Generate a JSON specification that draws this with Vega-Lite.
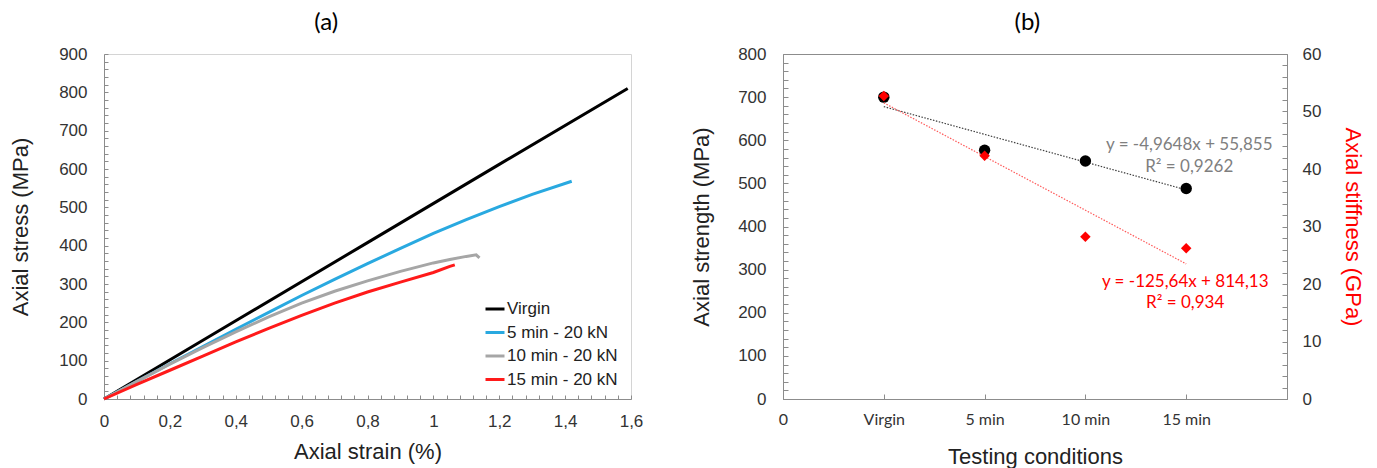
{
  "$schema": "https://vega.github.io/schema/vega-lite/v6.json",
  "background": "white",
  "padding": {"left": 9, "top": 10, "right": 0, "bottom": 0},
  "spacing": 46,
  "config": {
    "view": {"stroke": null},
    "axis": {"grid": false, "labelFlush": false, "labelOverlap": false},
    "title": {"font": "Lato", "fontSize": 24, "fontWeight": "normal", "color": "#000000", "frame": "bounds", "anchor": "middle", "offset": 10}
  },
  "datasets": {
    "curves": [
      {"series": "Virgin", "strain": 0, "stress": 0},
      {"series": "Virgin", "strain": 0.4, "stress": 204},
      {"series": "Virgin", "strain": 0.8, "stress": 408},
      {"series": "Virgin", "strain": 1.2, "stress": 612},
      {"series": "Virgin", "strain": 1.59, "stress": 810},
      {"series": "5 min - 20 kN", "strain": 0, "stress": 0},
      {"series": "5 min - 20 kN", "strain": 0.1, "stress": 46},
      {"series": "5 min - 20 kN", "strain": 0.2, "stress": 92},
      {"series": "5 min - 20 kN", "strain": 0.3, "stress": 137},
      {"series": "5 min - 20 kN", "strain": 0.4, "stress": 182},
      {"series": "5 min - 20 kN", "strain": 0.5, "stress": 226},
      {"series": "5 min - 20 kN", "strain": 0.6, "stress": 270},
      {"series": "5 min - 20 kN", "strain": 0.7, "stress": 312},
      {"series": "5 min - 20 kN", "strain": 0.8, "stress": 353},
      {"series": "5 min - 20 kN", "strain": 0.9, "stress": 393},
      {"series": "5 min - 20 kN", "strain": 1.0, "stress": 432},
      {"series": "5 min - 20 kN", "strain": 1.1, "stress": 468},
      {"series": "5 min - 20 kN", "strain": 1.2, "stress": 502},
      {"series": "5 min - 20 kN", "strain": 1.3, "stress": 534},
      {"series": "5 min - 20 kN", "strain": 1.42, "stress": 568},
      {"series": "10 min - 20 kN", "strain": 0, "stress": 0},
      {"series": "10 min - 20 kN", "strain": 0.1, "stress": 46},
      {"series": "10 min - 20 kN", "strain": 0.2, "stress": 91},
      {"series": "10 min - 20 kN", "strain": 0.3, "stress": 134},
      {"series": "10 min - 20 kN", "strain": 0.4, "stress": 175},
      {"series": "10 min - 20 kN", "strain": 0.5, "stress": 214},
      {"series": "10 min - 20 kN", "strain": 0.6, "stress": 250},
      {"series": "10 min - 20 kN", "strain": 0.7, "stress": 281},
      {"series": "10 min - 20 kN", "strain": 0.8, "stress": 308},
      {"series": "10 min - 20 kN", "strain": 0.9, "stress": 333},
      {"series": "10 min - 20 kN", "strain": 1.0, "stress": 355},
      {"series": "10 min - 20 kN", "strain": 1.05, "stress": 364},
      {"series": "10 min - 20 kN", "strain": 1.1, "stress": 372},
      {"series": "10 min - 20 kN", "strain": 1.13, "stress": 376},
      {"series": "10 min - 20 kN", "strain": 1.14, "stress": 368},
      {"series": "15 min - 20 kN", "strain": 0, "stress": 0},
      {"series": "15 min - 20 kN", "strain": 0.1, "stress": 38},
      {"series": "15 min - 20 kN", "strain": 0.2, "stress": 75},
      {"series": "15 min - 20 kN", "strain": 0.3, "stress": 112},
      {"series": "15 min - 20 kN", "strain": 0.4, "stress": 149},
      {"series": "15 min - 20 kN", "strain": 0.5, "stress": 184},
      {"series": "15 min - 20 kN", "strain": 0.6, "stress": 218},
      {"series": "15 min - 20 kN", "strain": 0.7, "stress": 250},
      {"series": "15 min - 20 kN", "strain": 0.8, "stress": 279},
      {"series": "15 min - 20 kN", "strain": 0.9, "stress": 305},
      {"series": "15 min - 20 kN", "strain": 1.0, "stress": 330},
      {"series": "15 min - 20 kN", "strain": 1.05, "stress": 346},
      {"series": "15 min - 20 kN", "strain": 1.065, "stress": 350}
    ],
    "strength": [
      {"cond": 1, "mpa": 700},
      {"cond": 2, "mpa": 577},
      {"cond": 3, "mpa": 552},
      {"cond": 4, "mpa": 488}
    ],
    "stiffness": [
      {"cond": 1, "gpa": 52.7},
      {"cond": 2, "gpa": 42.3},
      {"cond": 3, "gpa": 28.2},
      {"cond": 4, "gpa": 26.2}
    ],
    "trendS": [
      {"cond": 1, "mpa": 678},
      {"cond": 4, "mpa": 485}
    ],
    "trendE": [
      {"cond": 1, "gpa": 51.5},
      {"cond": 4, "gpa": 23.5}
    ],
    "eqGray": [
      {"cond": 4.03, "mpa": 589, "label": "y = -4,9648x + 55,855"},
      {"cond": 4.03, "mpa": 538, "label": "R² = 0,9262"}
    ],
    "eqRed": [
      {"cond": 3.99, "mpa": 271, "label": "y = -125,64x + 814,13"},
      {"cond": 3.99, "mpa": 223, "label": "R² = 0,934"}
    ]
  },
  "hconcat": [
    {
      "title": {"text": "(a)"},
      "width": 527,
      "height": 345,
      "view": {"stroke": "#d4d4d4"},
      "data": {"name": "curves"},
      "mark": {"type": "line", "strokeWidth": 3},
      "encoding": {
        "x": {
          "field": "strain", "type": "quantitative",
          "scale": {"domain": [0, 1.6], "nice": false},
          "axis": {
            "title": "Axial strain (%)",
            "values": [0,0.04,0.08,0.12,0.16,0.2,0.24,0.28,0.32,0.36,0.4,0.44,0.48,0.52,0.56,0.6,0.64,0.68,0.72,0.76,0.8,0.84,0.88,0.92,0.96,1,1.04,1.08,1.12,1.16,1.2,1.24,1.28,1.32,1.36,1.4,1.44,1.48,1.52,1.56,1.6],
            "labelExpr": "round(datum.value*25) % 5 === 0 ? replace(format(datum.value, '~g'), '.', ',') : ''",
            "labelOverlap": false,
            "tickSize": -4, "labelPadding": 18, "titlePadding": 12,
            "domainColor": "#8c8c8c", "tickColor": "#8c8c8c",
            "labelFont": "Liberation Sans", "labelFontSize": 17, "labelColor": "#333333",
            "titleFont": "Liberation Sans", "titleFontSize": 22, "titleFontWeight": "normal", "titleColor": "#222222"
          }
        },
        "y": {
          "field": "stress", "type": "quantitative",
          "scale": {"domain": [0, 900], "nice": false},
          "axis": {
            "title": "Axial stress (MPa)",
            "values": [0,20,40,60,80,100,120,140,160,180,200,220,240,260,280,300,320,340,360,380,400,420,440,460,480,500,520,540,560,580,600,620,640,660,680,700,720,740,760,780,800,820,840,860,880,900],
            "labelExpr": "datum.value % 100 === 0 ? datum.label : ''",
            "labelOverlap": false,
            "tickSize": -4, "labelPadding": 21, "titlePadding": 26,
            "domainColor": "#8c8c8c", "tickColor": "#8c8c8c",
            "labelFont": "Liberation Sans", "labelFontSize": 17, "labelColor": "#333333",
            "titleFont": "Liberation Sans", "titleFontSize": 22, "titleFontWeight": "normal", "titleColor": "#222222"
          }
        },
        "color": {
          "field": "series", "type": "nominal",
          "scale": {"domain": ["Virgin", "5 min - 20 kN", "10 min - 20 kN", "15 min - 20 kN"], "range": ["#000000", "#29a9e0", "#a6a6a6", "#ff1a1a"]},
          "legend": {
            "title": null, "orient": "none", "legendX": 380, "legendY": 244, "padding": 0,
            "symbolType": "stroke", "symbolSize": 361, "symbolStrokeWidth": 3,
            "labelFont": "Liberation Sans", "labelFontSize": 17, "labelColor": "#222222",
            "labelOffset": 1, "rowPadding": 4.5
          }
        }
      }
    },
    {
      "title": {"text": "(b)"},
      "width": 504,
      "height": 345,
      "view": {"stroke": "#8c8c8c"},
      "encoding": {
        "x": {
          "field": "cond", "type": "quantitative",
          "scale": {"domain": [0, 5], "nice": false},
          "axis": {
            "title": "Testing conditions",
            "values": [0, 1, 2, 3, 4],
            "labelExpr": "['0','Virgin','5 min','10 min','15 min'][datum.value]",
            "labelOverlap": false,
            "tickSize": -5, "labelPadding": 17, "titlePadding": 19, "labelDx": 3,
            "domainColor": "#8c8c8c", "tickColor": "#8c8c8c",
            "labelFont": "Lato", "labelFontSize": 16, "labelColor": "#333333",
            "titleFont": "Liberation Sans", "titleFontSize": 22, "titleFontWeight": "normal", "titleColor": "#222222"
          }
        }
      },
      "layer": [
        {
          "encoding": {
            "y": {
              "field": "mpa", "type": "quantitative", "title": "Axial strength (MPa)",
              "scale": {"domain": [0, 800], "nice": false},
              "axis": {
                "orient": "left",
                "values": [0,20,40,60,80,100,120,140,160,180,200,220,240,260,280,300,320,340,360,380,400,420,440,460,480,500,520,540,560,580,600,620,640,660,680,700,720,740,760,780,800],
                "labelExpr": "datum.value % 100 === 0 ? datum.label : ''",
                "labelOverlap": false,
                "tickSize": -5, "labelPadding": 22, "titlePadding": 24,
                "domainColor": "#8c8c8c", "tickColor": "#8c8c8c",
                "labelFont": "Liberation Sans", "labelFontSize": 17, "labelColor": "#333333",
                "titleFont": "Liberation Sans", "titleFontSize": 22, "titleFontWeight": "normal", "titleColor": "#222222"
              }
            }
          },
          "layer": [
            {
              "data": {"name": "trendS"},
              "mark": {"type": "line", "color": "#404040", "strokeWidth": 1.2, "strokeDash": [1.5, 1.5]}
            },
            {
              "data": {"name": "strength"},
              "mark": {"type": "point", "shape": "circle", "filled": true, "size": 130, "color": "#000000", "opacity": 1}
            },
            {
              "data": {"name": "eqGray"},
              "mark": {"type": "text", "font": "Lato", "fontSize": 17, "color": "#7f7f7f", "align": "center", "baseline": "middle"},
              "encoding": {"text": {"field": "label"}}
            },
            {
              "data": {"name": "eqRed"},
              "mark": {"type": "text", "font": "Lato", "fontSize": 17, "color": "#ff0000", "align": "center", "baseline": "middle"},
              "encoding": {"text": {"field": "label"}}
            }
          ]
        },
        {
          "encoding": {
            "y": {
              "field": "gpa", "type": "quantitative", "title": "Axial stiffness (GPa)",
              "scale": {"domain": [0, 60], "nice": false},
              "axis": {
                "orient": "right",
                "values": [0,2,4,6,8,10,12,14,16,18,20,22,24,26,28,30,32,34,36,38,40,42,44,46,48,50,52,54,56,58,60],
                "labelExpr": "datum.value % 10 === 0 ? datum.label : ''",
                "labelOverlap": false,
                "tickSize": -5, "labelPadding": 20, "titlePadding": 20,
                "domainColor": "#8c8c8c", "tickColor": "#8c8c8c",
                "labelFont": "Liberation Sans", "labelFontSize": 17, "labelColor": "#333333",
                "titleFont": "Liberation Sans", "titleFontSize": 22, "titleFontWeight": "normal", "titleColor": "#ff0000"
              }
            }
          },
          "layer": [
            {
              "data": {"name": "trendE"},
              "mark": {"type": "line", "color": "#ff5a5a", "strokeWidth": 1.2, "strokeDash": [1.5, 1.5]}
            },
            {
              "data": {"name": "stiffness"},
              "mark": {"type": "point", "shape": "diamond", "filled": true, "size": 110, "color": "#ff0000", "opacity": 1}
            }
          ]
        }
      ],
      "resolve": {"scale": {"y": "independent"}}
    }
  ]
}
